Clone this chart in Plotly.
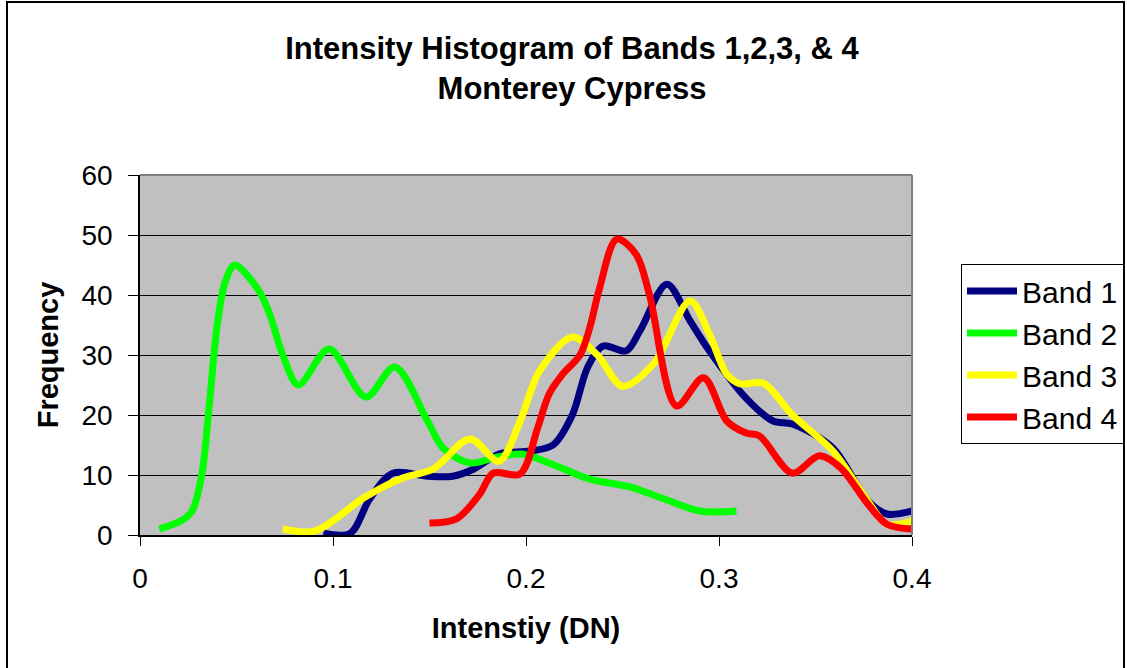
import plotly.graph_objects as go

# Band 1 (navy)
b1_x = [0.095, 0.109, 0.119, 0.131, 0.149, 0.162, 0.173, 0.186, 0.202, 0.214, 0.224, 0.232, 0.240, 0.252,
        0.259, 0.273, 0.285, 0.295, 0.314, 0.328, 0.338, 0.359, 0.377, 0.387, 0.400]
b1_y = [0.3, 0.3, 6, 10.3, 9.8, 9.8, 11, 13.5, 14, 15, 20, 28, 31.5, 30.7,
        34, 41.8, 35.7, 30.7, 22.8, 19, 18.5, 14.5, 5.7, 3.5, 4]

# Band 2 (green)
b2_x = [0.010, 0.022, 0.027, 0.032, 0.036, 0.040, 0.044, 0.049, 0.061, 0.067, 0.074, 0.082, 0.098, 0.117, 0.132,
        0.149, 0.157, 0.171, 0.185, 0.198, 0.212, 0.233, 0.254, 0.270, 0.290, 0.309]
b2_y = [1, 2.5, 4, 10, 22, 35, 42, 45, 41, 37, 30, 25, 31, 23, 28,
        19, 14.5, 12, 13, 13.5, 12, 9.3, 8, 6.2, 4, 4]

# Band 3 (yellow)
b3_x = [0.074, 0.091, 0.116, 0.136, 0.152, 0.171, 0.186, 0.197, 0.207, 0.224, 0.237, 0.250, 0.266,
        0.285, 0.295, 0.304, 0.311, 0.323, 0.338, 0.359, 0.377, 0.387, 0.400]
b3_y = [1, 0.7, 6.2, 9.5, 11, 16, 12.3, 19, 27.3, 33, 30, 24.8, 28.5,
        39, 33.5, 26.8, 25.2, 25.3, 20, 14, 5.7, 1.8, 2.3]

# Band 4 (red)
b4_x = [0.150, 0.164, 0.176, 0.183, 0.197, 0.206, 0.212, 0.219, 0.228, 0.233, 0.238, 0.247, 0.257,
        0.264, 0.278, 0.292, 0.304, 0.314, 0.321, 0.338, 0.352, 0.363, 0.377, 0.387, 0.400]
b4_y = [2, 2.7, 6.8, 10.3, 10.2, 17.8, 23.5, 26.8, 30, 34.5, 41, 49.3, 46.8,
        40, 21.5, 26.2, 19, 17, 16.5, 10.3, 13.2, 11.2, 5.2, 1.8, 1]

series = [
    ("Band 1", b1_x, b1_y, "#000080"),
    ("Band 2", b2_x, b2_y, "#00FF00"),
    ("Band 3", b3_x, b3_y, "#FFFF00"),
    ("Band 4", b4_x, b4_y, "#FF0000"),
]

x_ticks = [0, 0.1, 0.2, 0.3, 0.4]
x_tick_labels = ["0", "0.1", "0.2", "0.3", "0.4"]
y_ticks = [0, 10, 20, 30, 40, 50, 60]

FONT = "Liberation Sans, Arial, sans-serif"

fig = go.Figure()
for name, xs, ys, col in series:
    fig.add_trace(go.Scatter(
        x=xs, y=ys, name=name, mode="lines",
        line=dict(color=col, width=7, shape="spline", smoothing=0.9),
    ))

W, H = 1127, 668
L, R, T, B = 140, 215, 175, 133
pw, ph = W - L - R, H - T - B

def px(x):
    return (x - L) / pw

def py(y):
    return (H - B - y) / ph

fig.update_layout(
    width=W, height=H,
    margin=dict(l=L, r=R, t=T, b=B, pad=0, autoexpand=False),
    paper_bgcolor="white",
    plot_bgcolor="#C0C0C0",
    font=dict(family=FONT, color="black", size=28),
    title=dict(
        text="<b>Intensity Histogram of Bands 1,2,3, & 4<br>Monterey Cypress</b>",
        x=572 / W, xanchor="center", y=1 - 59 / H, yanchor="middle",
        font=dict(family=FONT, size=31, color="black"),
    ),
    showlegend=True,
    legend=dict(
        x=px(961), y=py(264), xanchor="left", yanchor="top",
        bordercolor="black", borderwidth=1, bgcolor="white",
        font=dict(family=FONT, size=30, color="black"),
        itemwidth=50, tracegroupgap=0,
    ),
    xaxis=dict(
        range=[0, 0.4], tickvals=x_ticks, ticktext=x_tick_labels,
        showgrid=False, zeroline=False,
        showline=True, linecolor="black", linewidth=1.5,
        ticks="outside", ticklen=9, tickcolor="black",
        ticklabelstandoff=9,
        tickfont=dict(family=FONT, size=28),
        title=dict(text="<b>Intenstiy (DN)</b>", font=dict(family=FONT, size=29), standoff=24),
        mirror=False,
    ),
    yaxis=dict(
        range=[0, 60], tickvals=y_ticks,
        showgrid=True, gridcolor="black", gridwidth=1,
        zeroline=False,
        showline=True, linecolor="black", linewidth=1.5,
        ticks="outside", ticklen=10, tickcolor="black",
        ticklabelstandoff=10,
        tickfont=dict(family=FONT, size=28),
        title=dict(text="<b>Frequency</b>", font=dict(family=FONT, size=29), standoff=14),
    ),
    shapes=[
        dict(type="line", xref="paper", yref="paper",
             x0=1, x1=1, y0=0, y1=1, line=dict(color="#808080", width=2)),
        dict(type="line", xref="paper", yref="paper",
             x0=0, x1=1, y0=1, y1=1, line=dict(color="#808080", width=2)),
        dict(type="rect", xref="paper", yref="paper",
             x0=px(7), x1=px(1124), y0=py(2), y1=py(700),
             line=dict(color="black", width=2), layer="below"),
    ],
)

fig.write_html(
    "out.html",
    config={"displayModeBar": False},
    post_script="document.body.style.margin='0';document.body.style.overflow='hidden';",
)
